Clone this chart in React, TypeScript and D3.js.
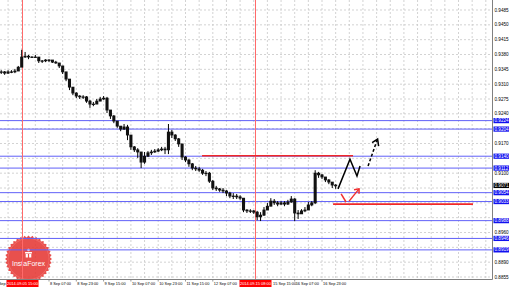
import React from 'react';
import * as d3 from 'd3';

const W = 510;
const H = 290;
const PLOT_RIGHT = 492;
const PLOT_BOTTOM = 279;

// price axis ticks
const priceTicks = [0.8855, 0.8890, 0.8925, 0.8960, 0.8995, 0.9030, 0.9065, 0.9100, 0.9135, 0.9170, 0.9205, 0.9240, 0.9275, 0.9310, 0.9345, 0.9380, 0.9415, 0.9450, 0.9485];

// time axis labels, every 16 hourly bars (hour index relative to 5 Sep 15:00)
const timeLabels = ["4 Sep 23:00", "5 Sep 15:00", "8 Sep 07:00", "8 Sep 23:00", "9 Sep 15:00", "10 Sep 07:00", "10 Sep 23:00", "11 Sep 15:00", "12 Sep 07:00", "12 Sep 23:00", "15 Sep 15:00", "16 Sep 07:00", "16 Sep 23:00"];
const timeLabelHours = [-16, 0, 16, 32, 48, 64, 80, 96, 112, 128, 144, 160, 176];

// red vertical time markers
const markerHours = [0, 137];
const markerLabels = ["2014.09.05 15:00", "2014.09.15 08:00"];

// blue horizontal levels
const levelPrices = [0.9224, 0.9204, 0.9140, 0.9112, 0.9054, 0.9033, 0.8988, 0.8946, 0.8919];
const currentPrice = 0.9071;

// price bars (2-hour steps)
const barStartHour = -12;
const barStep = 2;
const closes = [0.9339, 0.9336, 0.9339, 0.9339, 0.9341, 0.9350, 0.9374, 0.9376, 0.9374, 0.9374, 0.9374, 0.9365, 0.9365, 0.9367, 0.9367, 0.9362, 0.9360, 0.9353, 0.9339, 0.9322, 0.9303, 0.9289, 0.9282, 0.9280, 0.9280, 0.9270, 0.9263, 0.9263, 0.9270, 0.9275, 0.9277, 0.9249, 0.9235, 0.9223, 0.9211, 0.9204, 0.9209, 0.9190, 0.9162, 0.9155, 0.9150, 0.9126, 0.9140, 0.9148, 0.9150, 0.9152, 0.9155, 0.9157, 0.9155, 0.9197, 0.9190, 0.9181, 0.9169, 0.9138, 0.9131, 0.9122, 0.9112, 0.9110, 0.9107, 0.9100, 0.9100, 0.9081, 0.9065, 0.9063, 0.9060, 0.9058, 0.9053, 0.9046, 0.9046, 0.9044, 0.9041, 0.9013, 0.9011, 0.9011, 0.9008, 0.8997, 0.9001, 0.9013, 0.9022, 0.9034, 0.9030, 0.9027, 0.9030, 0.9027, 0.9032, 0.9039, 0.9006, 0.9004, 0.9011, 0.9013, 0.9025, 0.9030, 0.9100, 0.9096, 0.9091, 0.9084, 0.9079, 0.9072, 0.9070];
const highs = [0.9343, 0.9341, 0.9343, 0.9343, 0.9346, 0.9353, 0.9391, 0.9386, 0.9379, 0.9376, 0.9379, 0.9374, 0.9367, 0.9369, 0.9369, 0.9367, 0.9365, 0.9360, 0.9353, 0.9339, 0.9322, 0.9303, 0.9291, 0.9284, 0.9284, 0.9282, 0.9273, 0.9268, 0.9275, 0.9280, 0.9282, 0.9280, 0.9249, 0.9237, 0.9223, 0.9211, 0.9216, 0.9214, 0.9190, 0.9164, 0.9159, 0.9150, 0.9150, 0.9152, 0.9155, 0.9157, 0.9159, 0.9162, 0.9162, 0.9216, 0.9202, 0.9192, 0.9183, 0.9169, 0.9140, 0.9133, 0.9124, 0.9117, 0.9115, 0.9110, 0.9105, 0.9103, 0.9084, 0.9070, 0.9065, 0.9065, 0.9060, 0.9056, 0.9053, 0.9051, 0.9048, 0.9041, 0.9015, 0.9015, 0.9013, 0.9011, 0.9008, 0.9020, 0.9030, 0.9041, 0.9039, 0.9034, 0.9034, 0.9034, 0.9037, 0.9046, 0.9041, 0.9013, 0.9015, 0.9020, 0.9032, 0.9034, 0.9107, 0.9103, 0.9098, 0.9091, 0.9086, 0.9079, 0.9074];
const lows = [0.9334, 0.9332, 0.9334, 0.9336, 0.9336, 0.9341, 0.9358, 0.9372, 0.9369, 0.9372, 0.9372, 0.9360, 0.9360, 0.9362, 0.9362, 0.9360, 0.9358, 0.9348, 0.9334, 0.9317, 0.9296, 0.9284, 0.9277, 0.9275, 0.9275, 0.9266, 0.9254, 0.9258, 0.9263, 0.9270, 0.9273, 0.9242, 0.9228, 0.9218, 0.9207, 0.9199, 0.9202, 0.9178, 0.9155, 0.9150, 0.9136, 0.9112, 0.9122, 0.9138, 0.9143, 0.9148, 0.9150, 0.9152, 0.9145, 0.9145, 0.9183, 0.9176, 0.9162, 0.9131, 0.9126, 0.9115, 0.9107, 0.9105, 0.9103, 0.9096, 0.9093, 0.9077, 0.9060, 0.9058, 0.9056, 0.9053, 0.9046, 0.9041, 0.9039, 0.9039, 0.9037, 0.9008, 0.9006, 0.9006, 0.9004, 0.8989, 0.8987, 0.8999, 0.9013, 0.9022, 0.9025, 0.9022, 0.9025, 0.9022, 0.9025, 0.9030, 0.8987, 0.8992, 0.9004, 0.9008, 0.9013, 0.9022, 0.9027, 0.9089, 0.9086, 0.9079, 0.9074, 0.9065, 0.9063];

// annotations (hour index, price)
const forecastSolidHours = [185.4, 192.4, 196.5, 198.3];
const forecastSolidPrices = [0.9063, 0.9133, 0.9093, 0.9117];
const forecastDashHours = [203, 208.3];
const forecastDashPrices = [0.9117, 0.9178];
const altHours = [187.2, 190.1, 191.9, 197.7];
const altPrices = [0.9051, 0.9032, 0.9034, 0.9063];
const upperRedHours = [105.7, 194.2];
const upperRedPrice = 0.9141;
const lowerRedHours = [182.5, 264.5];
const lowerRedPrice = 0.9027;

const FONT = '"Liberation Sans", Arial, sans-serif';

export default function App() {
  const x = d3.scaleLinear().domain([0, 16]).range([21.7, 49.0]);
  const y = d3.scaleLinear().domain([0.8855, 0.9485]).range([277, 10]);
  const fmt = (v: number) => v.toFixed(4);

  const gridStep = (x(16) - x(0)) / 2;
  const vGrid: number[] = [];
  for (let gx = x(-16); gx < PLOT_RIGHT; gx += gridStep) if (gx > 0) vGrid.push(gx);

  const markY = [...levelPrices, currentPrice].map(p => y(p));
  const visibleTicks = priceTicks.filter(p => markY.every(my => Math.abs(my - y(p)) > 5));
  const markX = markerHours.map(h => Math.round(x(h)) + 0.5);
  const visibleTimes = timeLabels
    .map((t, i) => {
      const px = x(timeLabelHours[i]);
      let tx = px + 1;
      markX.forEach(mx => { if (tx > mx && tx < mx + 17.5) tx = mx + 17.5; });
      return { t, px, tx };
    })
    .filter(d => markX.every(mx => Math.abs(mx - d.px) > 8));

  const line = d3.line<[number, number]>().x(d => x(d[0])).y(d => y(d[1]));
  const pts = (hs: number[], ps: number[]) => hs.map((h, i) => [h, ps[i]] as [number, number]);
  const barW = x(barStep) - x(0);

  // badge
  const bcx = 28.5, bcy = 259, teeth = 36;
  const badgePts: [number, number][] = [];
  for (let i = 0; i < teeth * 2; i++) {
    const a = (i / (teeth * 2)) * Math.PI * 2;
    const r = i % 2 === 0 ? 23.5 : 21.5;
    badgePts.push([bcx + r * Math.cos(a), bcy + r * Math.sin(a)]);
  }
  const badgePath = d3.line()(badgePts) + 'Z';

  return (
    <svg width={W} height={H} style={{ position: 'absolute', left: 0, top: 0, background: '#fff' }} fontFamily={FONT}>
      <defs>
        <clipPath id="plot"><rect x={0} y={0} width={PLOT_RIGHT} height={PLOT_BOTTOM} /></clipPath>
        <clipPath id="tlabels">
          <rect x={0} y={279} width={markX[0] - 16} height={11} />
          <rect x={markX[0] + 16} y={279} width={markX[1] - markX[0] - 32} height={11} />
          <rect x={markX[1] + 16} y={279} width={W} height={11} />
        </clipPath>
      </defs>
      <rect x={0} y={0} width={W} height={H} fill="#fff" />
      <g clipPath="url(#plot)">
        {/* grid */}
        {priceTicks.map((p, i) => (
          <line key={'hg' + i} x1={0} x2={PLOT_RIGHT} y1={y(p)} y2={y(p)} stroke="#c8c8c8" strokeWidth={0.8} strokeDasharray="2,2" />
        ))}
        {vGrid.map((gx, i) => (
          <line key={'vg' + i} x1={gx} x2={gx} y1={0} y2={PLOT_BOTTOM} stroke="#c8c8c8" strokeWidth={0.8} strokeDasharray="2,2" />
        ))}
        {/* badge */}
        <g opacity={0.88}>
          <path d={badgePath} fill="#e53935" />
          <circle cx={bcx} cy={bcy} r={20.5} fill="none" stroke="#f05a57" strokeWidth={0.8} />
        </g>
        <g fill="#fff">
          <circle cx={bcx} cy={bcy - 9} r={1.3} />
          <rect x={bcx - 3.5} y={bcy - 7} width={7} height={1.6} rx={0.5} />
          <rect x={bcx - 2.8} y={bcy - 5} width={2.2} height={3.5} />
          <rect x={bcx + 0.6} y={bcy - 5} width={2.2} height={3.5} />
          <text x={bcx} y={bcy + 4.5} fontSize={7} textAnchor="middle" dominantBaseline="central">InstaForex</text>
        </g>
        {/* blue levels */}
        {levelPrices.map((p, i) => (
          <line key={'lv' + i} x1={0} x2={PLOT_RIGHT} y1={y(p)} y2={y(p)} stroke="#6060f8" strokeWidth={1} />
        ))}
        {/* red vertical markers */}
        {markX.map((mx, i) => (
          <line key={'mk' + i} x1={mx} x2={mx} y1={0} y2={PLOT_BOTTOM} stroke="#ff6a6a" strokeWidth={1} />
        ))}
        {/* red horizontal lines */}
        <line x1={x(upperRedHours[0])} x2={x(upperRedHours[1])} y1={y(upperRedPrice)} y2={y(upperRedPrice)} stroke="#f02828" strokeWidth={1.6} />
        <line x1={x(lowerRedHours[0])} x2={x(lowerRedHours[1])} y1={y(lowerRedPrice)} y2={y(lowerRedPrice)} stroke="#f02828" strokeWidth={1.6} />
        {/* bars */}
        {closes.map((c, i) => {
          const h = barStartHour + i * barStep;
          const bx = x(h);
          const o = i > 0 ? closes[i - 1] : c;
          const top = Math.min(y(o), y(c));
          const bot = Math.max(y(o), y(c));
          return (
            <g key={'b' + i}>
              <line x1={bx} x2={bx} y1={y(highs[i])} y2={y(lows[i])} stroke="#000" strokeWidth={1} />
              <rect x={bx - barW * 0.45} y={top - 0.4} width={barW * 0.9} height={Math.max(1.3, bot - top + 0.8)} fill="#111" />
            </g>
          );
        })}
        {/* forecast arrows */}
        <path d={line(pts(forecastSolidHours, forecastSolidPrices)) || ''} fill="none" stroke="#000" strokeWidth={1.5} />
        <path d={line(pts(forecastDashHours, forecastDashPrices)) || ''} fill="none" stroke="#000" strokeWidth={1.5} strokeDasharray="3,2" />
        {(() => {
          const tx = x(forecastDashHours[1]), ty = y(forecastDashPrices[1]);
          return <path d={`M${tx - 5},${ty + 2.5} L${tx + 0.5},${ty - 1} L${tx + 1.5},${ty + 6}`} fill="none" stroke="#000" strokeWidth={1.5} />;
        })()}
        <path d={line(pts(altHours.slice(0, 2), altPrices.slice(0, 2))) || ''} fill="none" stroke="#f03030" strokeWidth={1.5} />
        <path d={line(pts(altHours.slice(2), altPrices.slice(2))) || ''} fill="none" stroke="#f03030" strokeWidth={1.5} />
        {(() => {
          const tx = x(altHours[3]), ty = y(altPrices[3]);
          return <path d={`M${tx - 5},${ty + 1} L${tx},${ty} L${tx},${ty + 5}`} fill="none" stroke="#f03030" strokeWidth={1.5} />;
        })()}
      </g>
      {/* frame */}
      <line x1={PLOT_RIGHT + 0.5} x2={PLOT_RIGHT + 0.5} y1={0} y2={PLOT_BOTTOM + 0.5} stroke="#808080" strokeWidth={1} />
      <line x1={0} x2={PLOT_RIGHT + 0.5} y1={PLOT_BOTTOM + 0.5} y2={PLOT_BOTTOM + 0.5} stroke="#808080" strokeWidth={1} />
      {/* price labels */}
      {visibleTicks.map((p, i) => (
        <text key={'pt' + i} x={494.5} y={y(p)} fontSize={4.6} dominantBaseline="central" fill="#000">{fmt(p)}</text>
      ))}
      {levelPrices.map((p, i) => (
        <g key={'ll' + i}>
          <rect x={493.5} y={y(p) - 2.6} width={15.5} height={5.2} fill="#1010f0" />
          <text x={494.5} y={y(p)} fontSize={4.6} dominantBaseline="central" fill="#fff">{fmt(p)}</text>
        </g>
      ))}
      <rect x={493.5} y={y(currentPrice) - 2.6} width={15.5} height={5.2} fill="#000" />
      <text x={494.5} y={y(currentPrice)} fontSize={4.6} dominantBaseline="central" fill="#fff">{fmt(currentPrice)}</text>
      {/* time labels */}
      <g clipPath="url(#tlabels)">
        {visibleTimes.map((d, i) => (
          <g key={'tl' + i}>
            <line x1={d.px} x2={d.px} y1={PLOT_BOTTOM} y2={PLOT_BOTTOM + 2.5} stroke="#808080" strokeWidth={0.8} />
            <text x={d.tx} y={283.5} fontSize={3.9} dominantBaseline="central" fill="#000">{d.t}</text>
          </g>
        ))}
      </g>
      {markX.map((mx, i) => (
        <g key={'ml' + i}>
          <rect x={mx - 16} y={280} width={32} height={7} fill="#ff0000" />
          <text x={mx} y={283.5} fontSize={4.0} textAnchor="middle" dominantBaseline="central" fill="#fff">{markerLabels[i]}</text>
        </g>
      ))}
    </svg>
  );
}
